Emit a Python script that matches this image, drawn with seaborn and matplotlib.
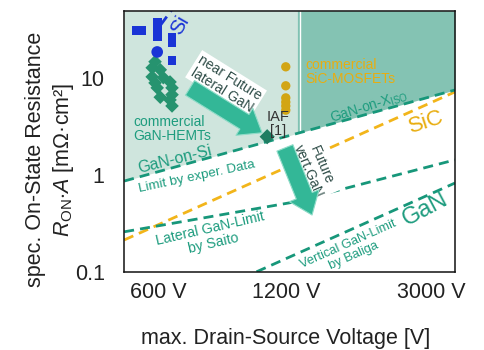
import numpy as np
import pandas as pd
import matplotlib
matplotlib.use("Agg")
import matplotlib.pyplot as plt
import matplotlib.transforms as mtransforms
import seaborn as sns

# ---- device data: breakdown voltage [V] vs. specific on-resistance [mOhm*cm^2]
si_v = [533, 551, 598, 598, 598, 598, 648, 648, 648]
si_r = [31.1, 31.1, 37.6, 33.4, 29.7, 26.9, 26.9, 23.3, 15.2]
si_round_v = [598]
si_round_r = [18.8]
gan_hemt_v = [591, 582, 608, 582, 618, 591, 641, 598, 648, 648, 608, 641, 648]
gan_hemt_r = [14.9, 12.9, 12.3, 10.4, 10.2, 9.0, 9.2, 8.0, 8.0, 6.8, 6.4, 6.0, 5.2]
iaf_v = [1085]
iaf_r = [2.5]
sic_mos_v = [1200, 1200, 1200, 1200, 1200, 1200]
sic_mos_r = [13.2, 8.4, 6.3, 5.7, 5.2, 4.7]

# ---- material / technology limits
lim_v = [500, 3000]
gan_exp_r = [0.87, 7.6]        # GaN-on-Si / GaN-on-X(iso), experimental limit
sic_lim_r = [0.214, 7.26]      # SiC limit
saito_v = [500, 1230, 3000]
saito_r = [0.26, 0.52, 1.44]   # lateral GaN limit (Saito)
baliga_r = [0.0245, 0.83]      # vertical GaN limit (Baliga)
si_lim_v = [610, 690]
si_lim_r = [36, 75]            # Si limit
iso_v = 1280                   # isolation boundary for GaN-on-Si

x_ticks = [600, 1200, 3000]
x_tick_labels = ["600 V", "1200 V", "3000 V"]
y_ticks = [0.1, 1, 10]
y_tick_labels = ["0.1", "1", "10"]

TEAL = "#17977a"
ORANGE = "#f2b51a"
BLUE = "#1a34d6"
MUSTARD = "#d2a514"
TXT_TEAL = "#1d9c7e"
TXT_ORANGE = "#e8ad10"
DARK = "#2f4d48"

sns.set_theme(style="white")
plt.rcParams["font.family"] = ["Liberation Sans", "DejaVu Sans"]
plt.rcParams["mathtext.fontset"] = "custom"
plt.rcParams["mathtext.rm"] = "Liberation Sans"
plt.rcParams["mathtext.it"] = "Liberation Sans:italic"

fig = plt.figure(figsize=(4.85, 3.5), dpi=100)
ax = fig.add_axes([0.256, 0.223, 0.682, 0.746])
ax.set_xscale("log")
ax.set_yscale("log")
xmin, xmax, ymin, ymax = 500, 3000, 0.1, 50
ax.set_xlim(xmin, xmax)
ax.set_ylim(ymin, ymax)

# shaded regions above the experimental GaN line
def gan_line(v):
    return 10 ** np.interp(np.log10(v), np.log10(lim_v), np.log10(gan_exp_r))

xl = np.geomspace(xmin, iso_v, 50)
xr = np.geomspace(iso_v, xmax, 50)
ax.fill_between(xl, gan_line(xl), ymax, color="#cfe5dd", lw=0, zorder=0)
ax.fill_between(xr, gan_line(xr), ymax, color="#84c3b3", lw=0, zorder=0)
# thin light seam next to the isolation boundary
ax.plot([iso_v * 1.012] * 2, [gan_line(iso_v * 1.012), ymax], color="white",
        lw=1.0, zorder=1)

dash = (3.6, 2.2)
line_kw = dict(lw=2.0, legend=False, zorder=2)


def dashed(xs, ys, color):
    df = pd.DataFrame({"v": xs, "r": ys})
    l = sns.lineplot(data=df, x="v", y="r", color=color, ax=ax, **line_kw)
    l.lines[-1].set_dashes(dash)


dashed(lim_v, sic_lim_r, ORANGE)
dashed(lim_v, gan_exp_r, TEAL)
dashed(saito_v, saito_r, TEAL)
dashed(lim_v, baliga_r, TEAL)
dashed(si_lim_v, si_lim_r, BLUE)
dashed([iso_v, iso_v], [gan_line(iso_v), ymax], TEAL)

# device points
sns.scatterplot(x=gan_hemt_v, y=gan_hemt_r, marker="D", s=48, color="#26936f",
                edgecolor="none", ax=ax, zorder=3)
sns.scatterplot(x=iaf_v, y=iaf_r, marker="D", s=60, color="#1f7d62",
                edgecolor="none", ax=ax, zorder=3)
sns.scatterplot(x=si_v, y=si_r, marker="s", s=40, color=BLUE,
                edgecolor="none", ax=ax, zorder=3)
sns.scatterplot(x=si_round_v, y=si_round_r, marker="o", s=70, color=BLUE,
                edgecolor="none", ax=ax, zorder=3)
sns.scatterplot(x=sic_mos_v, y=sic_mos_r, marker="o", s=45, color=MUSTARD,
                edgecolor="none", ax=ax, zorder=3)

# arrows
arrow_kw = dict(arrowstyle="simple,head_length=0.75,head_width=1.15,tail_width=0.62",
                fc="#33b797", ec="#8fdcc8", lw=0.8, shrinkA=0, shrinkB=0,
                mutation_scale=20)
ax.annotate("", xy=(0.417, 0.533), xytext=(0.199, 0.705), xycoords="axes fraction",
            arrowprops=arrow_kw, zorder=5)
ax.annotate("", xy=(0.568, 0.218), xytext=(0.486, 0.475), xycoords="axes fraction",
            arrowprops=arrow_kw, zorder=5)

T = ax.transAxes
box = dict(boxstyle="square,pad=0.15", fc="white", ec="none")
ax.text(0.308, 0.720, "near Future\nlateral GaN", transform=T, rotation=-32,
        ha="center", va="center", fontsize=10, color=DARK, bbox=box, zorder=4,
        linespacing=1.0)
ax.text(0.577, 0.398, "Future\nvert.GaN", transform=T, rotation=-67,
        ha="center", va="center", fontsize=10, color=DARK, bbox=box, zorder=4,
        linespacing=1.0)
ax.text(0.027, 0.548, "commercial\nGaN-HEMTs", transform=T, ha="left", va="center",
        fontsize=10, color=TXT_TEAL, linespacing=1.05, zorder=4)
ax.text(0.152, 0.432, "GaN-on-Si", transform=T, rotation=14, ha="center",
        va="center", fontsize=11.5, color=TXT_TEAL, zorder=4)
ax.text(0.221, 0.366, "Limit by exper. Data", transform=T, rotation=12,
        ha="center", va="center", fontsize=9.6, color=TXT_TEAL, zorder=4)
ax.text(0.465, 0.567, "IAF\n[1]", transform=T, ha="center", va="center",
        fontsize=10.5, color="#333333", linespacing=1.0, zorder=4)
ax.text(0.547, 0.766, "commercial\nSiC-MOSFETs", transform=T, ha="left",
        va="center", fontsize=10, color=TXT_ORANGE, linespacing=1.05, zorder=4)
ax.text(0.740, 0.630, "GaN-on-X$_\\mathregular{ISO}$", transform=T, rotation=17.5,
        ha="center", va="center", fontsize=10, color=TXT_TEAL, zorder=4)
ax.text(0.915, 0.575, "SiC", transform=T, rotation=18, ha="center",
        va="center", fontsize=16, color=TXT_ORANGE, zorder=4)
ax.text(0.266, 0.138, "Lateral GaN-Limit\nby Saito", transform=T, rotation=13,
        ha="center", va="center", fontsize=10.2, color=TXT_TEAL,
        multialignment="center", linespacing=1.05, zorder=4)
ax.text(0.686, 0.084, "Vertical GaN-Limit\nby Baliga", transform=T, rotation=24,
        ha="center", va="center", fontsize=9.3, color=TXT_TEAL,
        multialignment="center", linespacing=1.05, zorder=4)
ax.text(0.912, 0.238, "GaN", transform=T, rotation=28, ha="center",
        va="center", fontsize=17, color=TXT_TEAL, zorder=4)
ax.text(0.169, 0.946, "Si", transform=T, rotation=60, ha="center",
        va="center", fontsize=15, color=BLUE, zorder=4)

# axes, ticks, labels
ax.set_xticks(x_ticks)
ax.set_xticklabels(x_tick_labels)
ax.xaxis.set_minor_locator(matplotlib.ticker.NullLocator())
ax.set_yticks(y_ticks)
ax.set_yticklabels(y_tick_labels)
ax.yaxis.set_minor_locator(matplotlib.ticker.LogLocator(base=10, subs=np.arange(2, 10)))
ax.yaxis.set_minor_formatter(matplotlib.ticker.NullFormatter())
ax.tick_params(axis="both", which="both", direction="in", colors="#222222",
               labelcolor="#222222", right=False, top=False)
ax.tick_params(axis="both", which="major", length=6, width=1.1, labelsize=15.5)
ax.tick_params(axis="y", which="minor", length=4.5, width=1.0)
ax.tick_params(axis="y", which="major", pad=14)
ax.tick_params(axis="x", which="major", pad=7)
lab3 = ax.get_xticklabels()[2]
lab3.set_transform(lab3.get_transform() + mtransforms.ScaledTranslation(-0.24, 0, fig.dpi_scale_trans))

for s in ax.spines.values():
    s.set_color("#111111")
    s.set_linewidth(1.1)

ax.set_xlabel("max. Drain-Source Voltage [V]", fontsize=15.5, color="#222222")
ax.xaxis.set_label_coords(0.487, -0.215)
ax.xaxis.label.set_va("top")
ax.set_ylabel("spec. On-State Resistance\n$R_\\mathregular{ON}$$\\cdot$$A$ [mΩ·cm²]",
              fontsize=15.5, color="#222222", linespacing=1.3)
ax.yaxis.set_label_coords(-0.145, 0.43)

fig.savefig("out.png", dpi=100)
